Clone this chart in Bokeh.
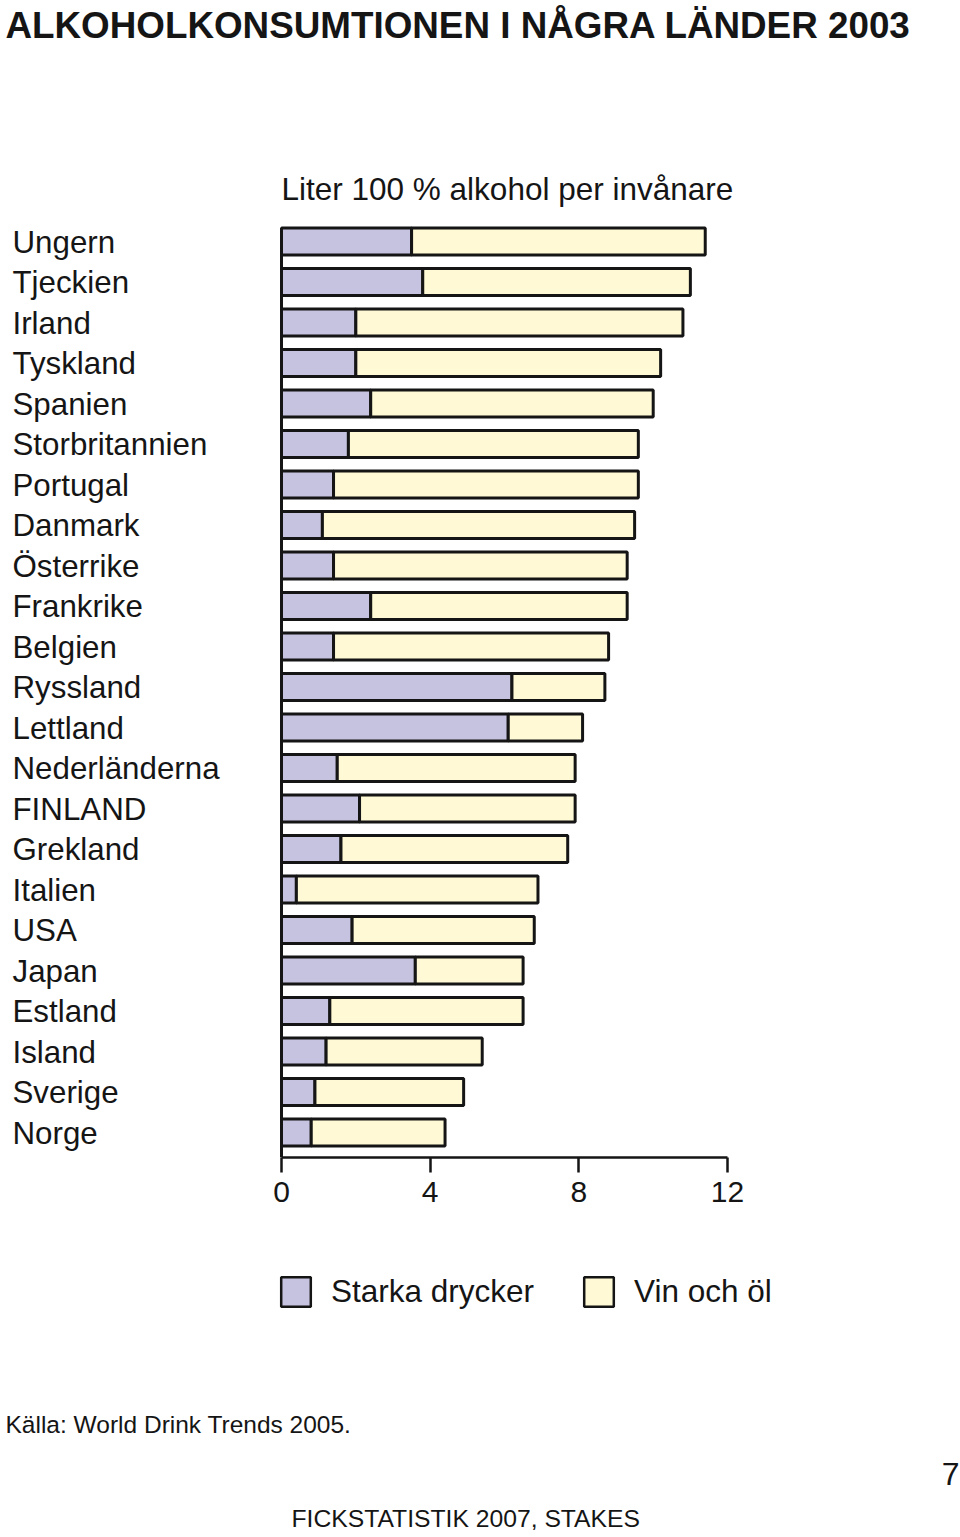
from bokeh.plotting import figure
from bokeh.layouts import column
from bokeh.models import (Range1d, FixedTicker, Label, LabelSet, ColumnDataSource,
                          Legend, LegendItem)
from bokeh.core.properties import value
from bokeh.embed import file_html
from bokeh.resources import INLINE

# ---- data (top to bottom as in the chart) ----
countries = ["Ungern", "Tjeckien", "Irland", "Tyskland", "Spanien", "Storbritannien",
             "Portugal", "Danmark", "Österrike", "Frankrike", "Belgien", "Ryssland",
             "Lettland", "Nederländerna", "FINLAND", "Grekland", "Italien", "USA",
             "Japan", "Estland", "Island", "Sverige", "Norge"]
starka = [3.5, 3.8, 2.0, 2.0, 2.4, 1.8, 1.4, 1.1, 1.4, 2.4, 1.4, 6.2,
          6.1, 1.5, 2.1, 1.6, 0.4, 1.9, 3.6, 1.3, 1.2, 0.9, 0.8]
vin_ol = [7.9, 7.2, 8.8, 8.2, 7.6, 7.8, 8.2, 8.4, 7.9, 6.9, 7.4, 2.5,
          2.0, 6.4, 5.8, 6.1, 6.5, 4.9, 2.9, 5.2, 4.2, 4.0, 3.6]
x_ticks = [0, 4, 8, 12]
series_names = ["Starka drycker", "Vin och öl"]
title_text = "ALKOHOLKONSUMTIONEN I NÅGRA LÄNDER 2003"
axis_title = "Liter 100 % alkohol per invånare"
source_text = "Källa: World Drink Trends 2005."
footer_text = "FICKSTATISTIK 2007, STAKES"
page_no = "7"

n = len(countries)
ypos = [n - 1 - i for i in range(n)]
totals = [a + b for a, b in zip(starka, vin_ol)]

src = ColumnDataSource(dict(country=countries, y=ypos, starka=starka,
                            vin=vin_ol, total=totals, zero=[0] * n))

FONT = "Liberation Sans"
INK = "#151515"
C_STARK = "#c6c3e1"
C_VIN = "#fffad5"

# ---------------- main chart ----------------
W = 960
HA = 1230
AX_Y = 1157          # axis line position (px from top)
PX_X = 37.17         # px per litre
PX_Y = 40.5          # px per country row
X0 = 281             # px of value 0
y_start = -25 / PX_Y
x_start = -X0 / PX_X

p = figure(width=W, height=HA, output_backend="svg", toolbar_location=None,
           x_range=Range1d(x_start, x_start + W / PX_X),
           y_range=Range1d(y_start, y_start + AX_Y / PX_Y),
           y_axis_location=None,
           min_border_left=0, min_border_right=0, min_border_top=0,
           min_border_bottom=HA - AX_Y)
p.outline_line_color = None
p.xgrid.visible = False
p.ygrid.visible = False
p.title.visible = False

bh = 27 / PX_Y
r1 = p.hbar(y="y", left="zero", right="starka", height=bh, source=src,
            fill_color=C_STARK, line_color=INK, line_width=3)
r2 = p.hbar(y="y", left="starka", right="total", height=bh, source=src,
            fill_color=C_VIN, line_color=INK, line_width=3)

# vertical base line from the top bar down to the axis
p.segment(x0=[0], y0=[y_start], x1=[0], y1=[max(ypos) + bh / 2],
          line_color=INK, line_width=3)

ax = p.xaxis[0]
ax.ticker = FixedTicker(ticks=x_ticks)
ax.bounds = (0, 12)
ax.axis_line_color = INK
ax.axis_line_width = 2.5
ax.major_tick_line_color = INK
ax.major_tick_line_width = 2.5
ax.major_tick_in = 0
ax.major_tick_out = 15
ax.minor_tick_line_color = None
ax.major_label_text_font = FONT
ax.major_label_text_font_size = "30px"
ax.major_label_text_color = INK
ax.major_label_standoff = 9

p.add_layout(LabelSet(x=12, y="y", x_units="screen", y_units="data", text="country",
                      source=src, text_font=value(FONT), text_font_size=value("31.3px"),
                      text_color=INK, text_baseline="alphabetic", y_offset=-11))


def lab(fig, txt, x, y, size, style="normal", align="left"):
    # y: wanted baseline in screen px from frame bottom; correct for Label box offset
    fig.add_layout(Label(x=x, y=y + 0.36 * size, x_units="screen", y_units="screen",
                         text=txt, text_font=FONT, text_font_size=f"{size}px",
                         text_font_style=style, text_color=INK, text_align=align,
                         text_baseline="alphabetic"))


lab(p, title_text, 5, AX_Y - 38, 36.8, "bold")
lab(p, axis_title, X0, AX_Y - 200, 31.5)

# ---------------- legend + footer ----------------
HB = 1537 - HA
q = figure(width=W, height=HB, output_backend="svg", toolbar_location=None,
           x_range=Range1d(0, W), y_range=Range1d(0, HB),
           x_axis_location=None, y_axis_location=None,
           min_border_left=0, min_border_right=0, min_border_top=0, min_border_bottom=0)
q.outline_line_color = None
q.xgrid.visible = False
q.ygrid.visible = False
q.title.visible = False

# legend proxies (zero-length bars placed outside the visible range)
proxy = ColumnDataSource(dict(y=[-100], l=[0], r=[0]))
g1 = q.hbar(y="y", left="l", right="r", height=1, source=proxy,
            fill_color=C_STARK, line_color=INK, line_width=2.5)
g2 = q.hbar(y="y", left="l", right="r", height=1, source=proxy,
            fill_color=C_VIN, line_color=INK, line_width=2.5)

legend = Legend(items=[LegendItem(label=series_names[0], renderers=[g1]),
                       LegendItem(label=series_names[1], renderers=[g2])],
                orientation="horizontal", location=(277, 227),
                glyph_width=37, glyph_height=37, label_standoff=17, spacing=46,
                padding=0, margin=0, border_line_alpha=0, background_fill_alpha=0,
                label_text_font=FONT, label_text_font_size="31.5px", label_text_color=INK)
q.add_layout(legend)

lab(q, source_text, 5, 1537 - 1433, 24.5)
lab(q, page_no, 959, 1537 - 1485, 32, align="right")
lab(q, footer_text, 291, 1537 - 1527, 24.7)

layout = column(p, q, spacing=0)
open("out.html", "w").write(file_html(layout, INLINE))
